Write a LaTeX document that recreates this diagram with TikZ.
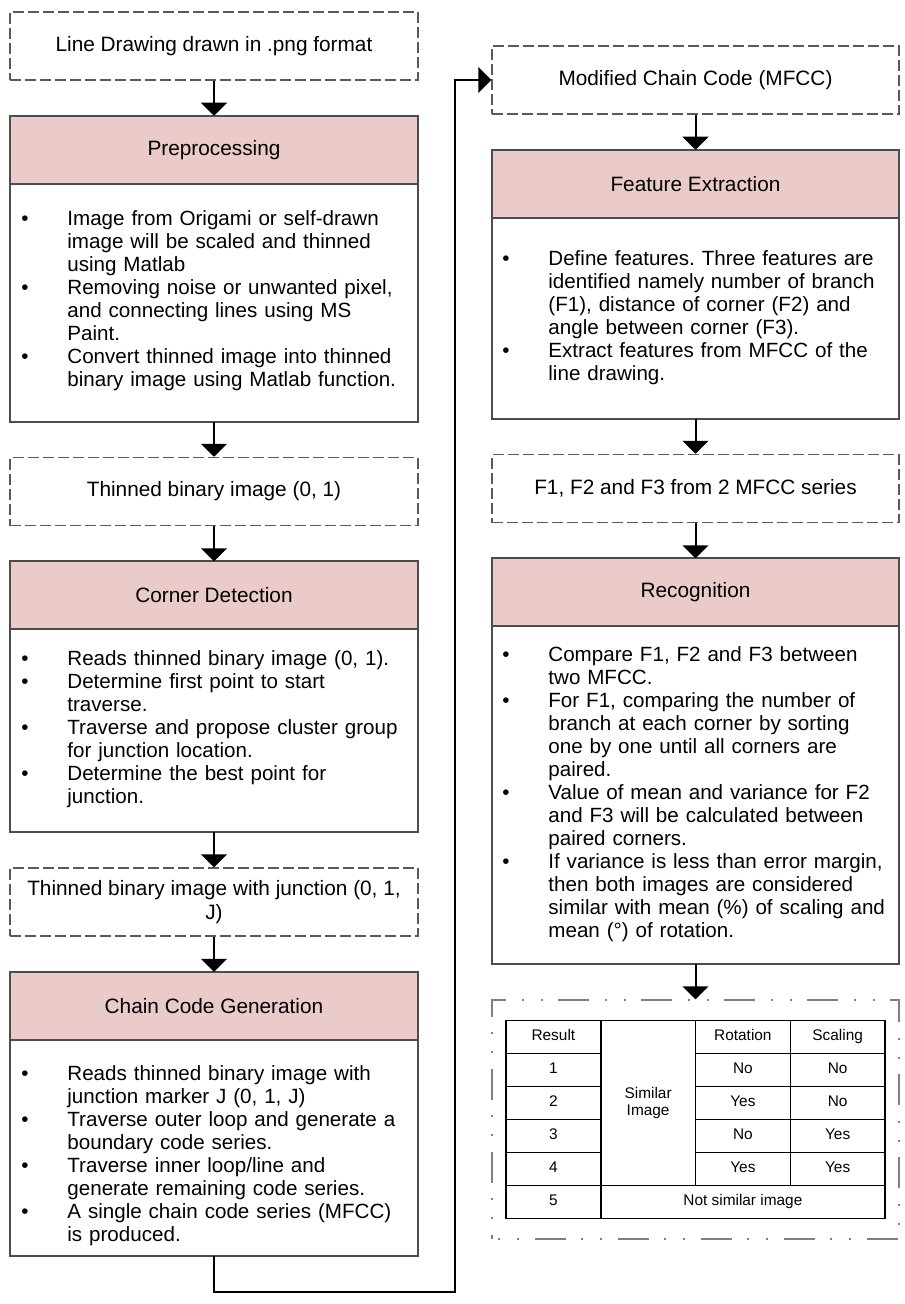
\documentclass[tikz,border=0pt]{standalone}
\usepackage{fontspec}
\setmainfont{Liberation Sans}
\usetikzlibrary{arrows.meta,positioning,calc}
\definecolor{hdr}{RGB}{234,203,202}
\frenchspacing
\newcommand\bul{\makebox[23pt][l]{\textbullet}}% bullet of list lines
\newcommand\ind{\hspace*{23pt}}% indent of wrapped lines

\begin{document}
\begin{tikzpicture}[
node distance=17.5pt,
 font=\fontsize{10.4}{12}\selectfont,
    io/.style = {rectangle, draw=black!65, dash pattern=on 5.5pt off 2pt,% data boxes
                 line width=0.75pt, minimum height=34pt, align=center},
  head/.style = {rectangle, draw=black!70, fill=hdr, line width=1pt,% titles of steps
                 minimum height=34pt, outer sep=0pt},
  body/.style = {rectangle, draw=black!70, line width=1pt, outer sep=0pt},
   lst/.style = {anchor=north west, inner sep=0pt, text width=196pt, align=left,
                 font=\fontsize{10.3}{11.5}\selectfont},
   arr/.style = {-{Triangle[width=13pt,length=6.5pt]}, line width=1pt},
  cell/.style = {inner sep=1pt, align=center, text height=5.8pt, text depth=1.6pt,
                 font=\fontsize{7.7}{8.6}\selectfont},
                        ]
\useasboundingbox (0,0) rectangle (452pt,-652pt);
% left column
\node[io, minimum width=204pt] (png) at (107pt,-23pt) {Line Drawing drawn in .png format};
\node[head, minimum width=204pt, below=of png] (pre-h) {Preprocessing};
\node[body, minimum width=204pt, minimum height=119pt, below=0pt of pre-h] (pre-b) {};
\node[io, minimum width=204pt, below=of pre-b] (tb) {Thinned binary image (0, 1)};
\node[head, minimum width=204pt, below=of tb] (cd-h) {Corner Detection};
\node[body, minimum width=204pt, minimum height=101.5pt, below=0pt of cd-h] (cd-b) {};
\node[io, minimum width=204pt, below=of cd-b] (tbj) {Thinned binary image with junction (0, 1,\\ J)};
\node[head, minimum width=204pt, below=of tbj] (cc-h) {Chain Code Generation};
\node[body, minimum width=204pt, minimum height=108pt, below=0pt of cc-h] (cc-b) {};
% right column
\node[io, minimum width=203.5pt] (mfcc) at (347.75pt,-40pt) {Modified Chain Code (MFCC)};
\node[head, minimum width=203.5pt, below=of mfcc] (fe-h) {Feature Extraction};
\node[body, minimum width=203.5pt, minimum height=100.5pt, below=0pt of fe-h] (fe-b) {};
\node[io, minimum width=203.5pt, below=of fe-b] (fs) {F1, F2 and F3 from 2 MFCC series};
\node[head, minimum width=203.5pt, below=of fs] (rec-h) {Recognition};
\node[body, minimum width=203.5pt, minimum height=169pt, below=0pt of rec-h] (rec-b) {};
\node[rectangle, draw=black!50, line width=1pt,
      dash pattern=on 15.5pt off 7.5pt on 1pt off 8.5pt on 1pt off 8pt, dash phase=20pt,
      minimum width=203.5pt, minimum height=119.5pt, below=of rec-b] (res) {};
% lists
\node[lst, yshift=-12.7pt] (pre-t) at ([xshift=5.5pt]pre-b.north west)
  {\strut\bul Image from Origami or self-drawn\\ \ind image will be scaled and thinned\\
   \ind using Matlab\\ \bul Removing noise or unwanted pixel,\\
   \ind and connecting lines using MS\\ \ind Paint.\\
   \bul Convert thinned image into thinned\\ \ind binary image using Matlab function.};
\node[lst, yshift=-9.7pt] (cd-t) at ([xshift=5.5pt]cd-b.north west)
  {\strut\bul Reads thinned binary image (0, 1).\\ \bul Determine first point to start\\
   \ind traverse.\\ \bul Traverse and propose cluster group\\ \ind for junction location.\\
   \bul Determine the best point for\\ \ind junction.};
\node[lst, yshift=-12.2pt] (cc-t) at ([xshift=5.5pt]cc-b.north west)
  {\strut\bul Reads thinned binary image with\\ \ind junction marker J (0, 1, J)\\
   \bul Traverse outer loop and generate a\\ \ind boundary code series.\\
   \bul Traverse inner loop/line and\\ \ind generate remaining code series.\\
   \bul A single chain code series (MFCC)\\ \ind is produced.};
\node[lst, yshift=-15.7pt] (fe-t) at ([xshift=5pt]fe-b.north west)
  {\strut\bul Define features. Three features are\\ \ind identified namely number of branch\\
   \ind (F1), distance of corner (F2) and\\ \ind angle between corner (F3).\\
   \bul Extract features from MFCC of the\\ \ind line drawing.};
\node[lst, yshift=-9.2pt] (rec-t) at ([xshift=5pt]rec-b.north west)
  {\strut\bul Compare F1, F2 and F3 between\\ \ind two MFCC.\\
   \bul For F1, comparing the number of\\ \ind branch at each corner by sorting\\
   \ind one by one until all corners are\\ \ind paired.\\
   \bul Value of mean and variance for F2\\ \ind and F3 will be calculated between\\
   \ind paired corners.\\
   \bul If variance is less than error margin,\\ \ind then both images are considered\\
   \ind similar with mean (\%) of scaling and\\ \ind mean (°) of rotation.};
% result table
\begin{scope}[shift={($(res.north west)+(7.5pt,-10.5pt)$)}, x=47.375pt, y=-16.5pt,
              line width=0.75pt]
\draw (0,0) rectangle (4,6);
\draw (1,0) -- (1,6) (2,0) -- (2,5) (3,0) -- (3,5) (0,5) -- (4,5);
\foreach \r in {1,...,4}
    \draw (0,\r) -- (1,\r) (2,\r) -- (4,\r);
\foreach \t [count=\i from 0] in {Result,1,2,3,4,5}% <-- first column
    \node[cell] (nr-\i) at (0.5,\i+0.5) {\t};
\foreach \t [count=\i from 0] in {Rotation,No,Yes,No,Yes}
    \node[cell] (rot-\i) at (2.5,\i+0.5) {\t};
\foreach \t [count=\i from 0] in {Scaling,No,No,Yes,Yes}
    \node[cell] (sc-\i) at (3.5,\i+0.5) {\t};
\node[cell, text height=, text depth=] (sim) at (1.5,2.5) {Similar\\Image};
\node[cell] (nsim) at (2.5,5.5) {Not similar image};
\end{scope}
% arrows
\draw[arr] (png) -- (pre-h);
\draw[arr] (pre-b) -- (tb);
\draw[arr] (tb) -- (cd-h);
\draw[arr] (cd-b) -- (tbj);
\draw[arr] (tbj) -- (cc-h);
\coordinate (turn) at (227.5pt,-646pt);
\draw[arr] (cc-b.south) |- (turn) |- (mfcc.west);
\draw[arr] (mfcc) -- (fe-h);
\draw[arr] (fe-b) -- (fs);
\draw[arr] (fs) -- (rec-h);
\draw[arr] (rec-b) -- (res);
\end{tikzpicture}
\end{document}
